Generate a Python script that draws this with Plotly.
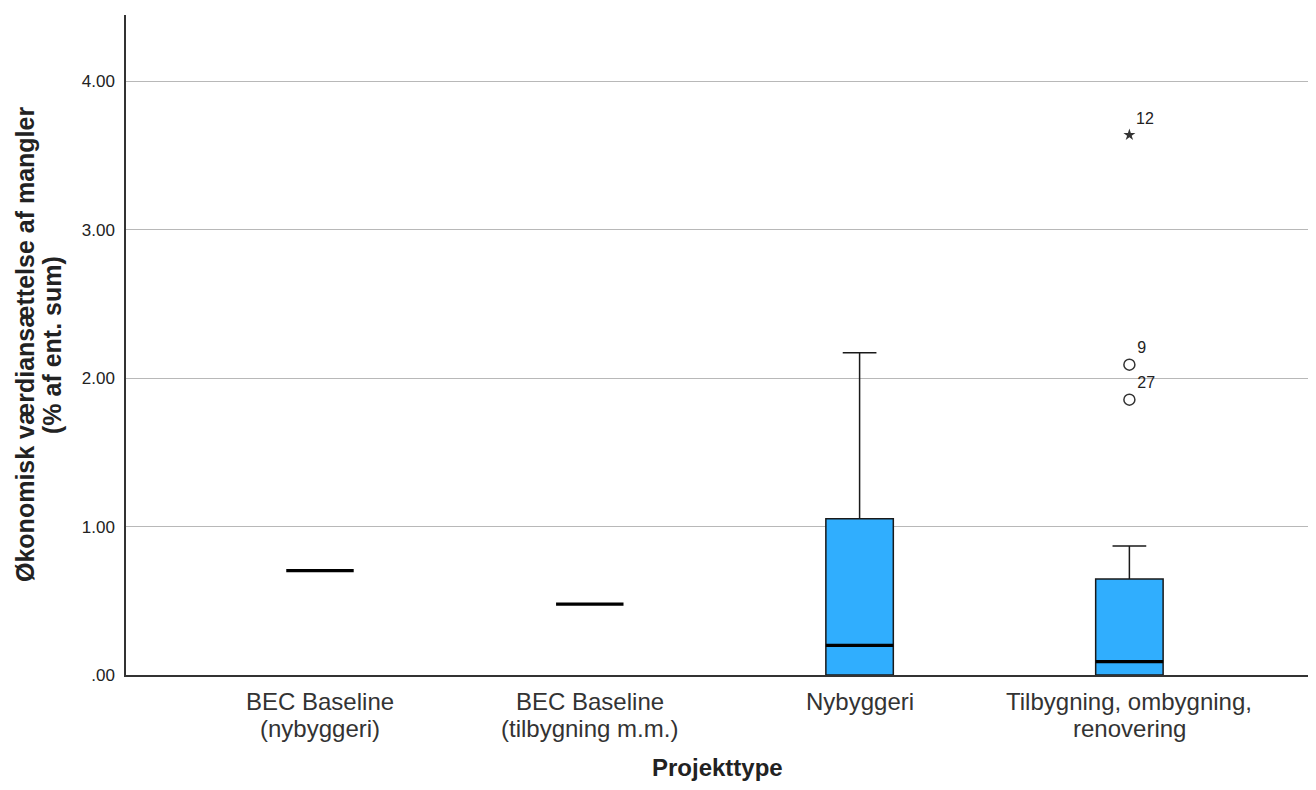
import plotly.graph_objects as go

categories = ["BEC Baseline<br>(nybyggeri)", "BEC Baseline<br>(tilbygning m.m.)", "Nybyggeri",
              "Tilbygning, ombygning,<br>renovering"]
# box statistics per category (None = no box, only a single value line)
q1 = [None, None, 0.0, 0.0]
median = [0.703, 0.478, 0.200, 0.090]
q3 = [None, None, 1.053, 0.647]
lower_whisker = [None, None, 0.0, 0.0]
upper_whisker = [None, None, 2.172, 0.869]

# outliers (category index, value, case label)
outlier_cat = [3, 3]
outlier_val = [2.091, 1.855]
outlier_lbl = ["9", "27"]
extreme_cat = [3]
extreme_val = [3.639]
extreme_lbl = ["12"]

ytick_vals = [0, 1, 2, 3, 4]
ytick_text = [".00", "1.00", "2.00", "3.00", "4.00"]

x_title = "Projekttype"
y_title_lines = ["Økonomisk værdiansættelse af mangler", "(% af ent. sum)"]

BOX_W = 0.25
FILL = "#30aefe"
FONT = "Liberation Sans, Arial, sans-serif"
TXT = "#222222"

fig = go.Figure()

for i in range(len(categories)):
    if q1[i] is not None:
        fig.add_trace(go.Box(
            x=[i], q1=[q1[i]], median=[median[i]], q3=[q3[i]],
            lowerfence=[lower_whisker[i]], upperfence=[upper_whisker[i]],
            width=BOX_W, whiskerwidth=0.5, fillcolor=FILL,
            line=dict(color="#1a1a1a", width=1.5), boxpoints=False,
            hoverinfo="skip", showlegend=False))
    fig.add_trace(go.Scatter(
        x=[i - BOX_W / 2, i + BOX_W / 2], y=[median[i], median[i]],
        mode="lines", line=dict(color="black", width=3.2),
        hoverinfo="skip", showlegend=False))

fig.add_trace(go.Scatter(
    x=outlier_cat, y=outlier_val, text=outlier_lbl, mode="markers+text",
    textposition="top right",
    marker=dict(symbol="circle-open", size=11, color="#333333", line=dict(width=1.5)),
    textfont=dict(family=FONT, size=16, color=TXT),
    hoverinfo="skip", showlegend=False))
fig.add_trace(go.Scatter(
    x=extreme_cat, y=extreme_val, text=extreme_lbl, mode="markers+text",
    textposition="top right",
    marker=dict(symbol="star", size=9, color="#333333"),
    textfont=dict(family=FONT, size=16, color=TXT),
    hoverinfo="skip", showlegend=False))

# category labels (two-line, tight spacing)
annotations = []
for i, cat in enumerate(categories):
    for j, line in enumerate(cat.split("<br>")):
        annotations.append(dict(
            x=i, xref="x", y=0, yref="paper", text=line, showarrow=False,
            xanchor="center", yanchor="middle", yshift=-26 - 27 * j,
            font=dict(family=FONT, size=24, color="#333333")))
annotations.append(dict(
    x=0.5, xref="paper", y=0, yref="paper", text="<b>%s</b>" % x_title,
    showarrow=False, xanchor="center", yanchor="middle", yshift=-92,
    font=dict(family=FONT, size=24, color=TXT)))
for j, line in enumerate(y_title_lines):
    annotations.append(dict(
        x=0, xref="paper", y=0.5, yref="paper", text="<b>%s</b>" % line,
        showarrow=False, xanchor="center", yanchor="middle", textangle=-90,
        xshift=-101 + 27 * j,
        font=dict(family=FONT, size=25, color=TXT)))

fig.update_layout(
    width=1300, height=774,
    margin=dict(l=118, r=0, t=7, b=107),
    paper_bgcolor="white", plot_bgcolor="white",
    font=dict(family=FONT, color=TXT),
    annotations=annotations,
    xaxis=dict(
        range=[-0.719, 3.662], tickmode="array",
        tickvals=list(range(len(categories))), showticklabels=False, ticks="",
        showgrid=False, zeroline=False, showline=True,
        linecolor="#333333", linewidth=1.5,
    ),
    yaxis=dict(
        range=[0, 4.447], tickmode="array", tickvals=ytick_vals, ticktext=ytick_text,
        tickfont=dict(size=17, color=TXT), ticks="",
        showgrid=True, gridcolor="#b8b8b8", gridwidth=1,
        zeroline=False, showline=True, linecolor="#333333", linewidth=1.5,
        ticklabelstandoff=6,
    ),
)

fig.write_html("out.html")
